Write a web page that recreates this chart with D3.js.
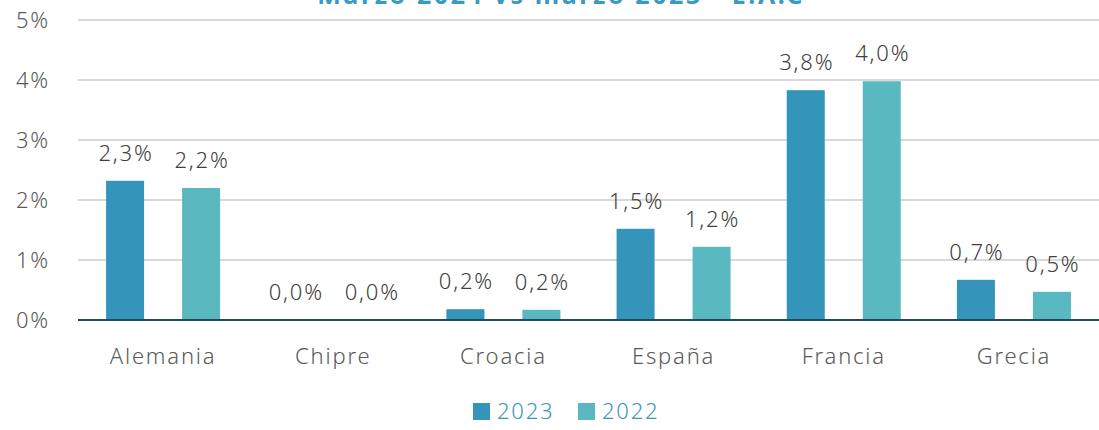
<!DOCTYPE html>
<html>
<head>
<meta charset="utf-8">
<script src="https://cdn.jsdelivr.net/npm/d3@7"></script>
<style>
  body { margin: 0; background: #fff; }
  #chart { width: 1099px; height: 430px; }
  text { font-family: "Noto Sans", sans-serif; font-weight: 300; letter-spacing: 1.8px; }
</style>
</head>
<body>
<div id="chart"></div>
<script>
// data
const paises = ["Alemania", "Chipre", "Croacia", "España", "Francia", "Grecia"]
const series = ["2023", "2022"]
const valores2023 = [2.32, 0, 0.18, 1.52, 3.83, 0.67]
const valores2022 = [2.2, 0, 0.17, 1.22, 3.98, 0.47]
const etiquetas2023 = ["2,3%", "0,0%", "0,2%", "1,5%", "3,8%", "0,7%"]
const etiquetas2022 = ["2,2%", "0,0%", "0,2%", "1,2%", "4,0%", "0,5%"]
const ticksY = [0, 1, 2, 3, 4, 5]
const titulo = "Marzo 2024 vs marzo 2023 - E.A.C"

const colores = { "2023": "#3494ba", "2022": "#5ab8c1" }

const width = 1099, height = 430
const margin = {top: 20, right: 0, bottom: 110, left: 78}

const svg = d3.select("#chart")
  .append("svg")
    .attr("width", width)
    .attr("height", height)

const x = d3.scaleBand()
  .domain(paises)
  .range([margin.left, width - margin.right])

// two bars per country, centres 76px apart
const xSub = d3.scalePoint()
  .domain(series)
  .range([x.bandwidth() / 2 - 38, x.bandwidth() / 2 + 38])

const y = d3.scaleLinear()
  .domain([0, 5])
  .range([height - margin.bottom, margin.top])

// grid
svg.append("g")
  .selectAll("line")
  .data(ticksY.slice(1))
  .join("line")
    .attr("x1", margin.left)
    .attr("x2", width - margin.right)
    .attr("y1", d => y(d))
    .attr("y2", d => y(d))
    .style("stroke", "#d9d9d9")
    .style("stroke-width", 2)

// y axis labels
svg.append("g")
  .attr("transform", `translate(${margin.left}, 0)`)
  .call(d3.axisLeft(y).tickValues(ticksY).tickFormat(d => d + "%").tickSize(0).tickPadding(28))
  .call(g => g.select(".domain").remove())
  .call(g => g.selectAll("text")
    .style("font-family", '"Noto Sans", sans-serif')
    .style("font-size", "22px")
    .style("fill", "#595959"))

const filas = paises.map((p, i) => ({
  pais: p,
  barras: [
    {serie: "2023", valor: valores2023[i], etiqueta: etiquetas2023[i]},
    {serie: "2022", valor: valores2022[i], etiqueta: etiquetas2022[i]}
  ]
}))

const grupos = svg.append("g")
  .selectAll("g")
  .data(filas)
  .join("g")
    .attr("transform", d => `translate(${x(d.pais)}, 0)`)

const bw = 38
grupos.selectAll("rect")
  .data(d => d.barras)
  .join("rect")
    .attr("x", d => xSub(d.serie) - bw / 2)
    .attr("y", d => y(d.valor))
    .attr("width", bw)
    .attr("height", d => y(0) - y(d.valor))
    .style("fill", d => colores[d.serie])

grupos.selectAll("text")
  .data(d => d.barras)
  .join("text")
    .attr("x", d => xSub(d.serie) + 1)
    .attr("y", d => y(d.valor) - 20)
    .attr("text-anchor", "middle")
    .style("font-size", "22px")
    .style("fill", "#404040")
    .text(d => d.etiqueta)

// baseline
svg.append("line")
  .attr("x1", margin.left)
  .attr("x2", width)
  .attr("y1", y(0))
  .attr("y2", y(0))
  .style("stroke", "#1f4b5c")
  .style("stroke-width", 2)

// x axis labels
svg.append("g")
  .attr("transform", `translate(0, ${y(0)})`)
  .call(d3.axisBottom(x).tickSize(0).tickPadding(28))
  .call(g => g.select(".domain").remove())
  .call(g => g.selectAll("text")
    .style("font-family", '"Noto Sans", sans-serif')
    .style("font-size", "22px")
    .style("fill", "#595959"))

// title (cut at the top like the original)
svg.append("text")
  .attr("x", 561)
  .attr("y", 4)
  .attr("text-anchor", "middle")
  .style("font-size", "25px")
  .style("font-weight", "bold")
  .style("letter-spacing", "2.6px")
  .style("fill", "#3a9ac0")
  .text(titulo)

// legend
const leyenda = svg.append("g")
  .selectAll("g")
  .data(series)
  .join("g")
    .attr("transform", (d, i) => `translate(${473 + i * 105}, 411)`)

leyenda.append("rect")
  .attr("x", 0)
  .attr("y", -8)
  .attr("width", 17)
  .attr("height", 17)
  .style("fill", d => colores[d])

leyenda.append("text")
  .attr("x", 24)
  .attr("y", 8)
  .style("font-size", "22px")
  .style("fill", "#3a95bd")
  .text(d => d)
</script>
</body>
</html>
